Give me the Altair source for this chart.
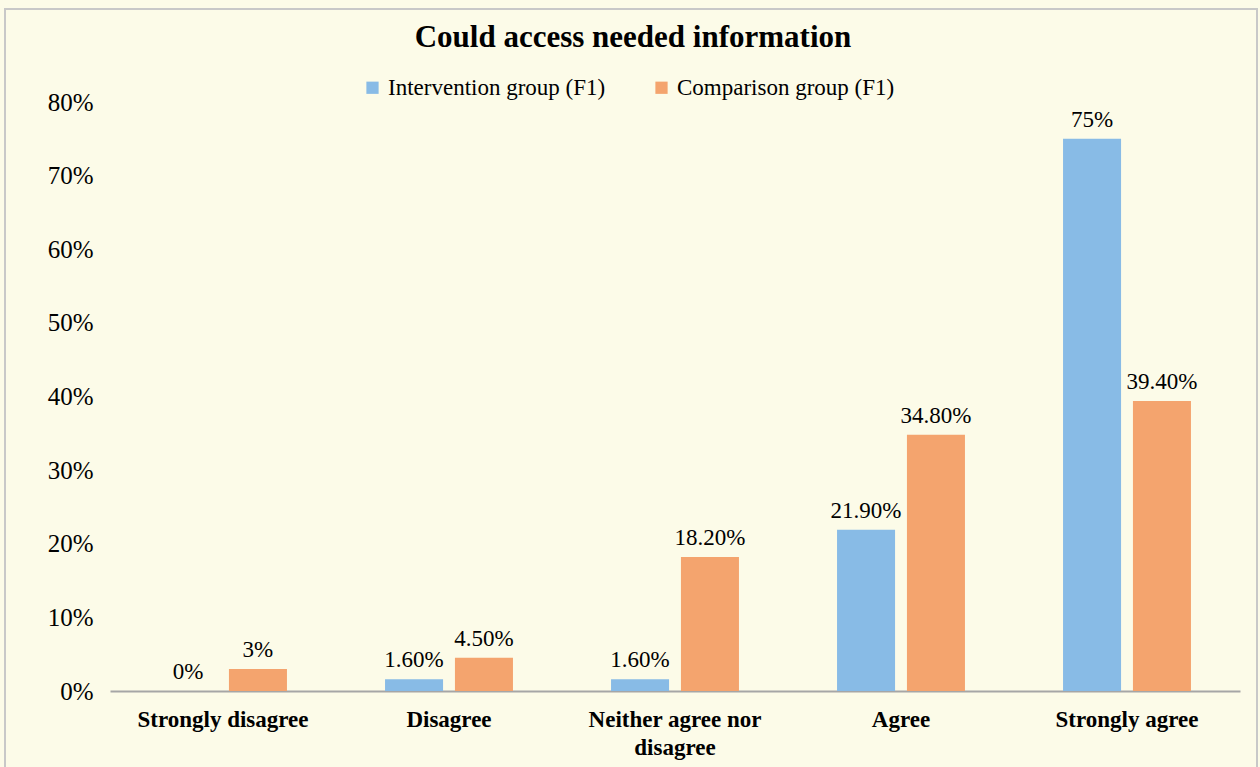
import altair as alt
import pandas as pd

title_text = ["Could access needed information"]
categories = ["Strongly disagree", "Disagree", "Neither agree nor disagree", "Agree", "Strongly agree"]
groups = ["Intervention group (F1)", "Comparison group (F1)"]
intervention = [0.0, 0.016, 0.016, 0.219, 0.75]
comparison = [0.03, 0.045, 0.182, 0.348, 0.394]
intervention_labels = ["0%", "1.60%", "1.60%", "21.90%", "75%"]
comparison_labels = ["3%", "4.50%", "18.20%", "34.80%", "39.40%"]
colors = ["#88BBE6", "#F4A46E"]

rows = []
for i, c in enumerate(categories):
    rows.append({"cat": c, "group": groups[0], "value": intervention[i], "label": intervention_labels[i]})
    rows.append({"cat": c, "group": groups[1], "value": comparison[i], "label": comparison_labels[i]})
df = pd.DataFrame(rows)

FONT = "Times New Roman, Liberation Serif, serif"

x = alt.X("cat:N", sort=categories, title=None,
          scale=alt.Scale(paddingInner=0.434, paddingOuter=0.217),
          axis=alt.Axis(labelAngle=0, labelFont=FONT, labelFontSize=23, labelFontWeight="bold",
                        labelColor="#000000", labelPadding=17, ticks=False, labelLimit=400,
                        domainColor="#A6A6A6", domainWidth=2, labelLineHeight=28,
                        labelExpr="datum.value == 'Neither agree nor disagree' ? ['Neither agree nor', 'disagree'] : datum.value"))
xo = alt.XOffset("group:N", sort=groups, scale=alt.Scale(paddingInner=0.17, paddingOuter=0))
y = alt.Y("value:Q", title=None,
          scale=alt.Scale(domain=[0, 0.8], nice=False),
          axis=alt.Axis(values=[0, 0.1, 0.2, 0.3, 0.4, 0.5, 0.6, 0.7, 0.8], format=".0%",
                        labelFont=FONT, labelFontSize=25, labelColor="#000000",
                        labelPadding=17, ticks=False, domain=False, grid=False))

base = alt.Chart(df)
bars = base.mark_bar().encode(
    x=x, xOffset=xo, y=y,
    color=alt.Color("group:N", sort=groups, scale=alt.Scale(domain=groups, range=colors),
                    legend=alt.Legend(title=None, orient="none", legendX=251, legendY=-26,
                                      direction="horizontal", columns=2, columnPadding=44,
                                      symbolType="square", symbolSize=150, symbolStrokeWidth=0,
                                      labelFont=FONT, labelFontSize=23, labelColor="#000000",
                                      labelOffset=4, labelLimit=400))
)
texts = base.mark_text(font=FONT, fontSize=23, color="#000000", baseline="bottom", dy=-7).encode(
    x=x, xOffset=xo, y=y, text="label:N"
)
border = alt.Chart(pd.DataFrame({"a": [0]})).mark_rect(filled=False, stroke="#C8C8C8", strokeWidth=2).encode(
    x=alt.value(-105), x2=alt.value(1147), y=alt.value(-93), y2=alt.value(690)
)
title = alt.Chart(pd.DataFrame({"t": title_text})).mark_text(
    font=FONT, fontSize=31, fontWeight="bold", color="#000000", baseline="middle", align="center"
).encode(x=alt.value(523), y=alt.value(-64), text="t:N")

chart = alt.layer(border, bars, texts, title).properties(
    width=1130, height=589,
    autosize=alt.AutoSizeParams(type="none"),
    padding={"left": 110, "top": 102, "right": 20, "bottom": 76},
    background="#FCFBE8",
).configure_view(stroke=None)

chart.save("out.html", embed_options={"renderer": "svg", "actions": False})
